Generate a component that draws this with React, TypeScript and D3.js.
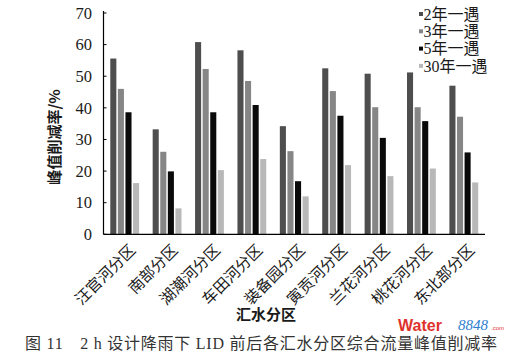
import React from "react";
import * as d3 from "d3";

const categories = ["汪官河分区", "南部分区", "湖潮河分区", "车田河分区", "装备园分区", "寅贡河分区", "兰花河分区", "桃花河分区", "东北部分区"];
const seriesNames = ["2年一遇", "3年一遇", "5年一遇", "30年一遇"];
const values2yr = [55.6, 33.2, 60.8, 58.2, 34.2, 52.5, 50.8, 51.2, 47.0];
const values3yr = [46.0, 26.1, 52.3, 48.5, 26.3, 45.3, 40.2, 40.2, 37.2];
const values5yr = [38.6, 19.9, 38.6, 40.9, 16.8, 37.5, 30.5, 35.8, 25.9];
const values30yr = [16.2, 8.2, 20.3, 23.8, 12.0, 21.9, 18.4, 20.8, 16.4];
const yTicks = [0, 10, 20, 30, 40, 50, 60, 70];
const colors = ["#4e4e4e", "#868686", "#0a0a0a", "#b8b8b8"];

const W = 530, H = 357;
const FONT = "'Liberation Serif', 'Noto Sans CJK SC', serif";
const CJK = "'Noto Sans CJK SC', sans-serif";

export default function App() {
  const allSeries = [values2yr, values3yr, values5yr, values30yr];
  const x0 = 103.5, x1 = 485, y0 = 234.3, yTop = 13;
  const y = d3.scaleLinear().domain([0, 70]).range([y0, yTop]);
  const xBand = d3.scaleBand<string>().domain(categories).range([x0, x1]).paddingInner(0.32).paddingOuter(0.16);
  const xSub = d3.scaleBand<string>().domain(seriesNames).range([0, xBand.bandwidth()]).paddingInner(0.2).paddingOuter(0);

  return (
    <svg width={W} height={H} style={{ display: "block", position: "absolute", left: 0, top: 0, background: "#fff" }}>
      <rect x={0} y={0} width={W} height={H} fill="#fff" />
      {categories.map((c, i) => (
        <g key={c}>
          {allSeries.map((vals, s) => (
            <rect key={s}
              x={(xBand(c) as number) + (xSub(seriesNames[s]) as number)}
              y={y(vals[i])}
              width={xSub.bandwidth()}
              height={y0 - y(vals[i])}
              fill={colors[s]} />
          ))}
        </g>
      ))}
      {/* axes */}
      <line x1={x0} x2={x0} y1={yTop - 2} y2={y0} stroke="#000" strokeWidth={1.2} />
      <line x1={x0} x2={x1} y1={y0} y2={y0} stroke="#000" strokeWidth={1.2} />
      {yTicks.map(t => (
        <g key={t}>
          <line x1={x0} x2={x0 + 3} y1={y(t)} y2={y(t)} stroke="#000" strokeWidth={1} />
          <text x={92} y={y(t)} dy="0.35em" textAnchor="end" fontFamily={FONT} fontSize={16.5} fill="#1a1a1a">{t}</text>
        </g>
      ))}
      {categories.map(c => {
        const cx = (xBand(c) as number) + xBand.bandwidth() / 2 + 4;
        const cy = y0 + 9;
        return (
          <text key={c} x={cx} y={cy} textAnchor="end" fontFamily={CJK} fontSize={15.5} fill="#1a1a1a"
            transform={`rotate(-45 ${cx} ${cy})`} dy="0.7em">{c}</text>
        );
      })}
      <text transform={`translate(55 137) rotate(-90)`} textAnchor="middle" dy="0.35em" fontFamily={CJK} fontSize={15} fontWeight="bold" fill="#1a1a1a">峰值削减率/%</text>
      <text x={266} y={315} textAnchor="middle" dy="0.35em" fontFamily={CJK} fontSize={15} fontWeight="bold" fill="#1a1a1a">汇水分区</text>
      {/* legend */}
      {seriesNames.map((n, i) => (
        <g key={n}>
          <rect x={419} y={14 + i * 17.3 - 2} width={4} height={4} fill={colors[i]} />
          <text x={423.5} y={14 + i * 17.3} dy="0.35em" fontFamily={FONT} fontSize={16} fill="#1a1a1a">{n}</text>
        </g>
      ))}
      {/* caption */}
      <text x={25} y={343} dy="0.35em" fontFamily={FONT} fontSize={16} fill="#333" textLength={472} lengthAdjust="spacing">图 11　2 h 设计降雨下 LID 前后各汇水分区综合流量峰值削减率</text>
      {/* watermark */}
      <text x={398} y={331} fontFamily="'Liberation Sans', sans-serif" fontSize={16} fontWeight="bold" fill="#e0322d">Water</text>
      <text x={458} y={330} fontFamily="'Liberation Serif', serif" fontSize={15} fontStyle="italic" fill="#2f7fd0">8848</text>
      <text x={491} y={330} fontFamily="'Liberation Sans', sans-serif" fontSize={6} fill="#e0322d">.com</text>
    </svg>
  );
}
